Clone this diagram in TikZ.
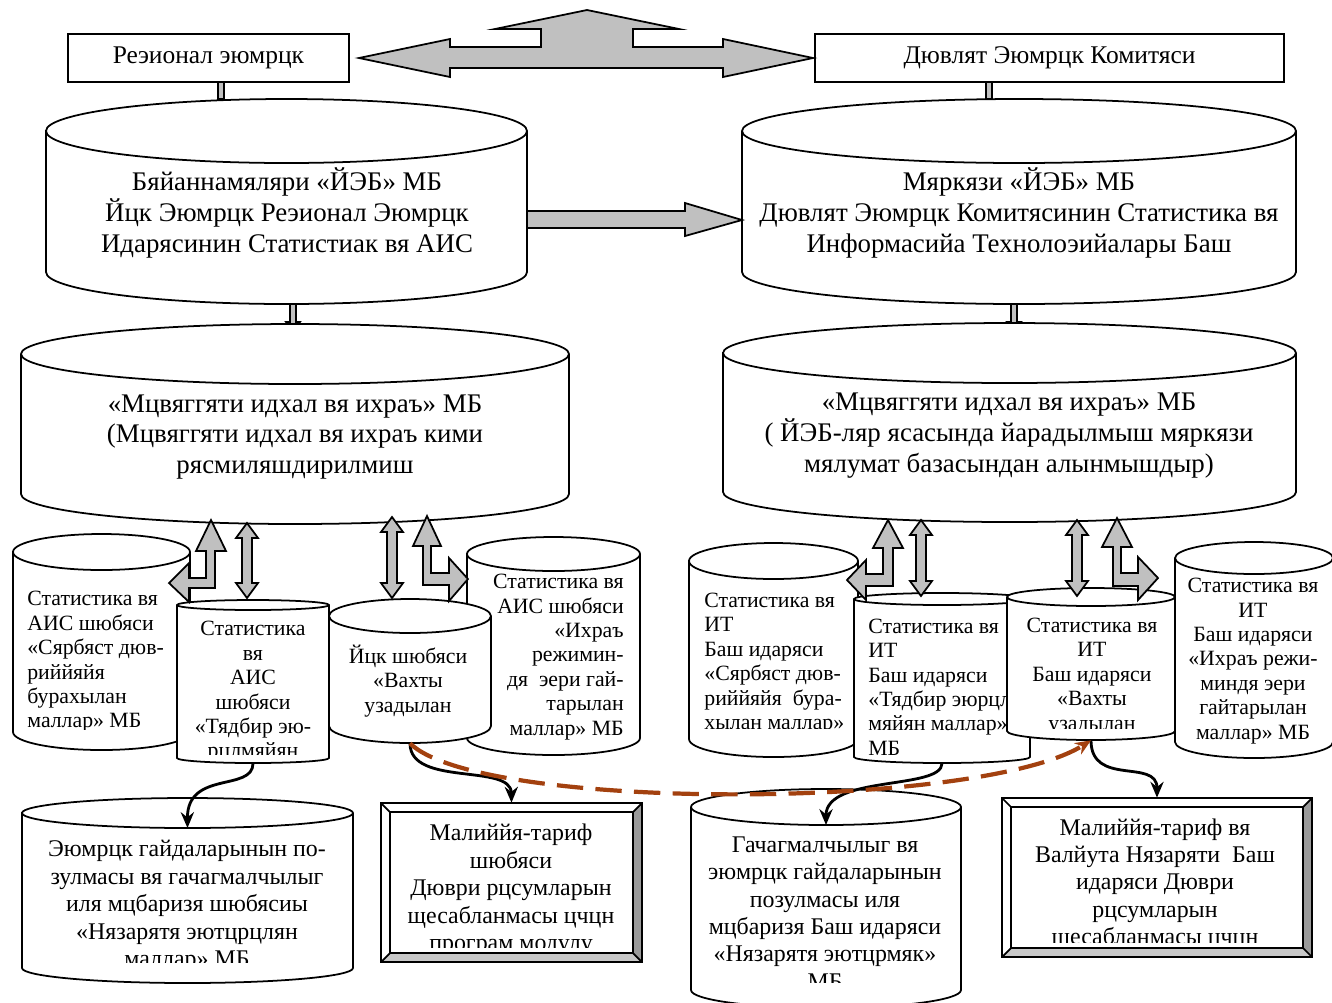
\documentclass[tikz,border=0pt]{standalone}
\usepackage{fontspec}
\setmainfont{Liberation Serif}
\usepackage{xcolor}
\usepackage{tikz}
\usetikzlibrary{positioning, calc, arrows.meta, fit}
\definecolor{arrowgray}{HTML}{C0C0C0}
\definecolor{brownline}{HTML}{A3410F}
\definecolor{bevelright}{HTML}{9A9A9A}
\definecolor{bevelbottom}{HTML}{C8C8C8}
\tikzstyle{topbox}=[draw, line width=1pt, minimum height=0.96cm, inner sep=0pt, font=\fontsize{14.5}{17.6}\selectfont]
\tikzstyle{cyl}=[draw, fill=white, line width=1pt]
\tikzstyle{blk}=[draw, fill=arrowgray, line width=1pt, line join=miter]
\tikzstyle{conn}=[-{Stealth[length=9pt, width=7.5pt]}, line width=1.6pt]
\tikzstyle{dashconn}=[-{Stealth[length=9pt, width=7.5pt]}, draw=brownline, line width=2.4pt, dash pattern=on 15pt off 7pt]
\tikzstyle{bigtxt}=[align=center, inner sep=0pt, font=\fontsize{15.3}{17.6}\selectfont]
\tikzstyle{smalltxt}=[inner sep=0pt, font=\fontsize{12.4}{13.9}\selectfont]
\tikzstyle{lowtxt}=[align=center, inner sep=0pt, font=\fontsize{13.6}{15.6}\selectfont]
% cylinder: name, left, top, right, bottom, lid radius (pixels, y down)
\newcommand{\dbcyl}[6]{%
  \path[cyl] (#2,-#3-#6) -- (#2,-#5+#6)
    arc[start angle=180, end angle=360, x radius={(#4-#2)/2}, y radius=#6]
    -- (#4,-#3-#6)
    arc[start angle=0, end angle=180, x radius={(#4-#2)/2}, y radius=#6] -- cycle;
  \draw[line width=1pt] (#2,-#3-#6) arc[start angle=180, end angle=360, x radius={(#4-#2)/2}, y radius=#6];
  \node[fit={(#2,-#3) (#4,-#5)}, inner sep=0pt] (#1) {};
  \coordinate (#1-lid) at ({(#2+#4)/2},{-#3-2*#6});
}
% framed box with bevel
\newcommand{\bevelbox}[5]{%
  \fill[white] (#2,-#3) rectangle (#4,-#5);
  \fill[bevelright] (#4,-#3) -- (#4,-#5) -- (#4-9,-#5+9) -- (#4-9,-#3-9) -- cycle;
  \fill[bevelbottom] (#2,-#5) -- (#4,-#5) -- (#4-9,-#5+9) -- (#2+9,-#5+9) -- cycle;
  \draw[line width=1pt] (#2,-#3) rectangle (#4,-#5) (#2+9,-#3-9) rectangle (#4-9,-#5+9)
    (#2,-#3) -- (#2+9,-#3-9) (#4,-#3) -- (#4-9,-#3-9)
    (#2,-#5) -- (#2+9,-#5+9) (#4,-#5) -- (#4-9,-#5+9);
  \node[fit={(#2,-#3) (#4,-#5)}, inner sep=0pt] (#1) {};
}
\newcommand{\vdbl}[3]{%
  \draw[blk] (#1,-#2) -- (#1+11,-#2-15) -- (#1+5,-#2-15) -- (#1+5,-#3+15) -- (#1+11,-#3+15)
    -- (#1,-#3) -- (#1-11,-#3+15) -- (#1-5,-#3+15) -- (#1-5,-#2-15) -- (#1-11,-#2-15) -- cycle;
}
\newcommand{\downstub}[3]{%
  \draw[blk] (#1-3,-#2) -- (#1-3,-#3+10) -- (#1-7,-#3+10) -- (#1,-#3) -- (#1+7,-#3+10)
    -- (#1+3,-#3+10) -- (#1+3,-#2) -- cycle;
}

\begin{document}
\begin{tikzpicture}[x=0.02cm, y=0.02cm]
\useasboundingbox (0,0) rectangle (1332,-1002);
\clip (0,0) rectangle (1332,-1002);

% committees
\node[topbox, minimum width=5.62cm] (regbox) at (208.5,-58) {Реэионал эюмрцк};
\node[topbox, minimum width=9.38cm] (combox) at (1049.5,-58) {Дювлят Эюмрцк Комитяси};
\draw[blk] (218,-82) rectangle (224,-99);
\draw[blk] (986,-82) rectangle (992,-99);
\draw[blk] (359,-58) -- (450,-39) -- (450,-47) -- (541,-47) -- (541,-29) -- (495,-29) -- (587,-10)
  -- (679,-29) -- (633,-29) -- (633,-47) -- (723,-47) -- (723,-39) -- (813,-58) -- (723,-77)
  -- (723,-68) -- (450,-68) -- (450,-77) -- cycle;

% upper databases
\dbcyl{regdb}{46}{99}{527}{304}{32}
\node[bigtxt] (regdbtxt) at (287,-213) {Бяйаннамяляри «ЙЭБ» МБ\\Йцк Эюмрцк Реэионал Эюмрцк\\Идарясинин Статистиак вя АИС};
\dbcyl{centdb}{742}{99}{1296}{304}{32}
\node[bigtxt] (centdbtxt) at (1019,-213) {Мяркязи «ЙЭБ» МБ\\Дювлят Эюмрцк Комитясинин Статистика вя\\Информасийа Технолоэийалары Баш};
\draw[blk] (527,-211) -- (685,-211) -- (685,-203) -- (742,-220) -- (685,-236) -- (685,-228) -- (527,-228) -- cycle;
\downstub{293}{304}{332}
\downstub{1014}{304}{332}

\dbcyl{tmpreg}{21}{324}{569}{524}{30}
\node[bigtxt] (tmpregtxt) at (295,-437) {«Мцвяггяти идхал вя ихраъ» МБ\\(Мцвяггяти идхал вя ихраъ кими\\рясмиляшдирилмиш};
\dbcyl{tmpcent}{723}{323}{1296}{522}{30}
\node[bigtxt] (tmpcenttxt) at (1009,-436) {«Мцвяггяти идхал вя ихраъ» МБ\\( ЙЭБ-ляр ясасында йарадылмыш мяркязи\\мялумат базасындан алынмышдыр)};

% regional departments
\dbcyl{freeaz}{13}{534}{190}{750}{18}
\begin{scope}
\clip (13,-534) rectangle (190,-729);
\node[smalltxt, align=left, anchor=west] (freeaztxt) at (27,-662) {Статистика вя\\АИС шюбяси\\«Сярбяст дюв-\\риййяйя\\бурахылан\\маллар» МБ};
\end{scope}
\dbcyl{unpaz}{177}{600}{329}{763}{5}
\begin{scope}
\clip (177,-600) rectangle (329,-754);
\node[smalltxt, align=center] (unpaztxt) at (253,-692) {Статистика\\вя\\АИС\\шюбяси\\«Тядбир эю-\\рцлмяйян};
\end{scope}
\dbcyl{reexaz}{467}{537}{640}{755}{17}
\node[smalltxt, align=right, anchor=east] (reexaztxt) at (624,-657) {Статистика вя\\АИС шюбяси\\«Ихраъ\\режимин-\\дя\ \ эери гай-\\тарылан\\маллар» МБ};
\dbcyl{extaz}{329}{599}{491}{743}{17}
\node[smalltxt, align=center] (extaztxt) at (408,-681) {Йцк шюбяси\\«Вахты\\узадылан};

\draw[blk] (211,-520) -- (226,-551) -- (215,-551) -- (215,-588) -- (189,-588) -- (189,-602) -- (169,-583)
  -- (189,-563) -- (189,-578) -- (206,-578) -- (206,-551) -- (196,-551) -- cycle;
\vdbl{247}{523}{598}
\vdbl{392}{517}{598}
\draw[blk] (427,-516) -- (441,-546) -- (431,-546) -- (431,-573) -- (449,-573) -- (449,-558) -- (468,-579)
  -- (449,-601) -- (449,-585) -- (423,-585) -- (423,-546) -- (413,-546) -- cycle;

% central departments
\dbcyl{freeit}{689}{543}{858}{757}{18}
\begin{scope}
\clip (689,-543) rectangle (858,-728);
\node[smalltxt, align=left, anchor=west] (freeittxt) at (704,-663.5) {Статистика вя\\ИТ\\Баш идаряси\\«Сярбяст дюв-\\риййяйя\ \ бура-\\хылан маллар»};
\end{scope}
\dbcyl{unpit}{854}{593}{1030}{763}{6}
\node[smalltxt, align=left, anchor=west] (unpittxt) at (868,-687) {Статистика вя\\ИТ\\Баш идаряси\\«Тядбир эюрцл\\мяйян маллар»\\МБ};
\dbcyl{extit}{1007}{588}{1175}{740}{9}
\begin{scope}
\clip (1007,-588) rectangle (1175,-728);
\node[smalltxt, align=center] (extittxt) at (1092,-676.5) {Статистика вя\\ИТ\\Баш идаряси\\«Вахты\\узадылан};
\end{scope}
\dbcyl{reexit}{1175}{542}{1333}{758}{16}
\node[smalltxt, align=center] (reexittxt) at (1253,-661) {Статистика вя\\ИТ\\Баш идаряси\\«Ихраъ режи-\\миндя эери\\гайтарылан\\маллар» МБ};

\draw[blk] (888,-520) -- (903,-548) -- (893,-548) -- (893,-586) -- (866,-586) -- (866,-600) -- (847,-580)
  -- (866,-560) -- (866,-574) -- (883,-574) -- (883,-548) -- (873,-548) -- cycle;
\vdbl{921}{520}{596}
\vdbl{1077}{520}{596}
\draw[blk] (1117,-518) -- (1132,-547) -- (1121,-547) -- (1121,-573) -- (1138,-573) -- (1138,-557) -- (1158,-578)
  -- (1138,-600) -- (1138,-586) -- (1113,-586) -- (1113,-547) -- (1102,-547) -- cycle;

% control and tariff units
\dbcyl{ctrlaz}{22}{798}{353}{983}{15}
\begin{scope}
\clip (22,-798) rectangle (353,-962);
\node[lowtxt] (ctrlaztxt) at (187,-906) {Эюмрцк гайдаларынын по-\\зулмасы вя гачагмалчылыг\\иля мцбаризя шюбясиы\\«Нязарятя эютцрцлян\\маллар» МБ};
\end{scope}
\bevelbox{tarifaz}{381}{803}{642}{962}
\begin{scope}
\clip (390,-812) rectangle (633,-947);
\node[lowtxt] (tarifaztxt) at (511,-890) {Малиййя-тариф\\шюбяси\\Дюври рцсумларын\\щесабланмасы цчцн\\програм модулу};
\end{scope}
\dbcyl{ctrlmain}{691}{789}{961}{1008}{18}
\begin{scope}
\clip (691,-789) rectangle (961,-982);
\node[lowtxt] (ctrlmaintxt) at (825,-913) {Гачагмалчылыг вя\\эюмрцк гайдаларынын\\позулмасы иля\\мцбаризя Баш идаряси\\«Нязарятя эютцрмяк»\\МБ};
\end{scope}
\bevelbox{tarifmain}{1002}{798}{1312}{957}
\begin{scope}
\clip (1011,-807) rectangle (1303,-942);
\node[lowtxt] (tarifmaintxt) at (1155,-884) {Малиййя-тариф вя\\Валйута Нязаряти\ \ Баш\\идаряси Дюври\\рцсумларын\\щесабланмасы цчцн};
\end{scope}

\draw[conn] (unpaz.south) .. controls (253,-792) and (187,-770) .. (ctrlaz-lid);
\draw[conn] (extaz.south) .. controls (410,-787) and (511,-763) .. (tarifaz.north);
\draw[conn] (unpit.south) .. controls (942,-790) and (826,-775) .. (ctrlmain-lid);
\draw[conn] (extit.south) .. controls (1091,-787) and (1157,-758) .. (tarifmain.north);
\draw[dashconn] (extaz.south) .. controls (480,-812) and (980,-810) .. (extit.south);

\end{tikzpicture}
\end{document}
